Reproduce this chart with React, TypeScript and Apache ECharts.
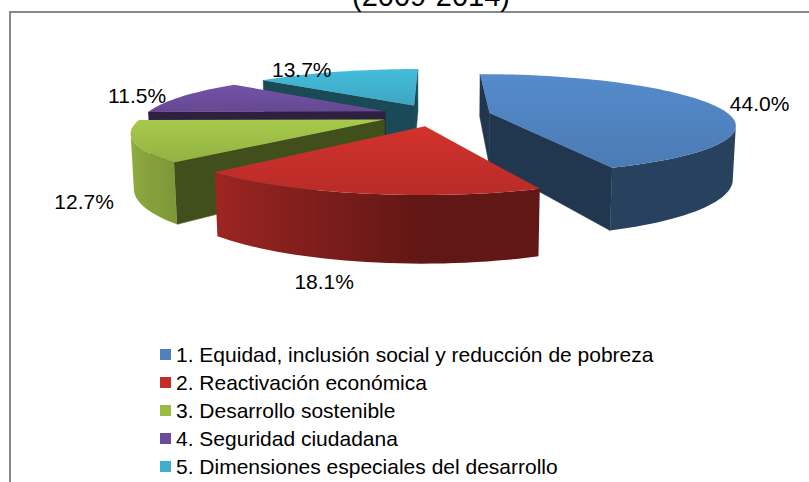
import React, { useEffect, useRef } from 'react';
import * as echarts from 'echarts';

const categories = [
  '1. Equidad, inclusión social y reducción de pobreza',
  '2. Reactivación económica',
  '3. Desarrollo sostenible',
  '4. Seguridad ciudadana',
  '5. Dimensiones especiales del desarrollo',
];
const values = [44.0, 18.1, 12.7, 11.5, 13.7];
const colors = ['#4F81BD', '#C22E2A', '#9BBB45', '#6B4C9A', '#3FAFCB'];
const titleText = '(2009-2014)';

// 3D projection settings
const CX = 436;
const CY = 115;
const R = 240;
const H = 53;
const EXPLODE = 55;
const SIN_T = 0.2;
const COS_T = Math.sqrt(1 - SIN_T * SIN_T);
const DIST = 1088;
const FONT = '"Liberation Sans", Arial, sans-serif';

function project(x: number, yUp: number, z: number): number[] {
  const depth = z * COS_T + yUp * SIN_T;
  const s = DIST / (DIST - depth);
  const down = z * SIN_T - yUp * COS_T;
  return [CX + s * x, CY + s * down];
}

function shade(hex: string, k: number): string {
  const n = parseInt(hex.slice(1), 16);
  const r = Math.min(255, Math.round(((n >> 16) & 255) * k));
  const g = Math.min(255, Math.round(((n >> 8) & 255) * k));
  const b = Math.min(255, Math.round((n & 255) * k));
  return 'rgb(' + r + ',' + g + ',' + b + ')';
}

function area(pts: number[][]): number {
  let s = 0;
  for (let i = 0; i < pts.length; i++) {
    const p = pts[i];
    const q = pts[(i + 1) % pts.length];
    s += p[0] * q[1] - q[0] * p[1];
  }
  return s;
}

const total = values.reduce((a, b) => a + b, 0);
const starts = values.map((_, i) => values.slice(0, i).reduce((a, b) => a + b, 0));

function renderItem(params: any, api: any) {
  const i = params.seriesIndex;
  const v = api.value(0);
  const base = colors[i];
  const a0 = (starts[i] / total) * Math.PI * 2;
  const a1 = ((starts[i] + v) / total) * Math.PI * 2;
  const m = (a0 + a1) / 2;
  const ox = EXPLODE * Math.sin(m);
  const oz = -EXPLODE * Math.cos(m);
  const rim = (t: number, yUp: number, r: number = R) =>
    project(ox + r * Math.sin(t), yUp, oz - r * Math.cos(t));
  const apexT = project(ox, 0, oz);
  const apexB = project(ox, -H, oz);
  const N = Math.max(2, Math.ceil((a1 - a0) / (Math.PI / 90)));
  const ts: number[] = [];
  for (let j = 0; j <= N; j++) ts.push(a0 + ((a1 - a0) * j) / N);
  const depthRank = Math.round((1 - Math.cos(m)) * 100) * 10;
  const children: any[] = [];

  const faceColor = shade(base, 0.42);
  const fs = [rim(a0, 0), apexT, apexB, rim(a0, -H)];
  if (area(fs) > 0) {
    children.push({ type: 'polygon', z2: depthRank, shape: { points: fs }, style: { fill: faceColor, stroke: faceColor, lineWidth: 0.5 } });
  }
  const fe = [apexT, rim(a1, 0), rim(a1, -H), apexB];
  if (area(fe) > 0) {
    children.push({ type: 'polygon', z2: depthRank, shape: { points: fe }, style: { fill: faceColor, stroke: faceColor, lineWidth: 0.5 } });
  }

  // outer wall, visible runs
  const vis: boolean[] = [];
  for (let j = 0; j < N; j++) {
    const q = [rim(ts[j], 0), rim(ts[j], -H), rim(ts[j + 1], -H), rim(ts[j + 1], 0)];
    vis.push(area(q) > 0);
  }
  let j = 0;
  while (j < N) {
    if (!vis[j]) { j++; continue; }
    let k = j;
    while (k < N && vis[k]) k++;
    const topPts: number[][] = [];
    const botPts: number[][] = [];
    const ks: number[] = [];
    for (let q = j; q <= k; q++) {
      topPts.push(rim(ts[q], 0));
      botPts.push(rim(ts[q], -H));
      ks.push(0.5 + 0.45 * Math.max(0, -Math.sin(ts[q])));
    }
    const pts = topPts.concat(botPts.slice().reverse());
    let minX = Infinity, maxX = -Infinity;
    pts.forEach((p) => { minX = Math.min(minX, p[0]); maxX = Math.max(maxX, p[0]); });
    const stops = topPts.map((p, idx) => ({
      offset: maxX > minX ? (p[0] - minX) / (maxX - minX) : 0,
      color: shade(base, ks[idx]),
    })).sort((a, b) => a.offset - b.offset);
    children.push({
      type: 'polygon', z2: depthRank + 1, shape: { points: pts },
      style: { fill: { type: 'linear', x: 0, y: 0, x2: 1, y2: 0, colorStops: stops } },
    });
    j = k;
  }

  // top face
  const top = [apexT].concat(ts.map((t) => rim(t, 0)));
  children.push({
    type: 'polygon', z2: depthRank + 2, shape: { points: top },
    style: {
      fill: {
        type: 'linear', x: 0, y: 0, x2: 0, y2: 1,
        colorStops: [
          { offset: 0, color: shade(base, 1.08) },
          { offset: 1, color: shade(base, 0.95) },
        ],
      },
    },
  });

  // label
  const front = Math.cos(m) < 0;
  const lp = rim(m, front ? -H : 0, R + 20);
  children.push({
    type: 'text', z2: 20000, x: lp[0], y: lp[1],
    style: {
      text: v.toFixed(1) + '%',
      fill: '#000',
      font: '21px ' + FONT,
      textAlign: Math.sin(m) >= 0 ? 'left' : 'right',
      textVerticalAlign: Math.cos(m) < -0.7 ? 'top' : 'middle',
    },
  });

  return { type: 'group', children };
}

export default function App() {
  const ref = useRef<HTMLDivElement>(null);
  useEffect(() => {
    document.body.style.margin = '0';
    const chart = echarts.init(ref.current as HTMLDivElement, null, { renderer: 'svg' });
    chart.setOption({
      animation: false,
      backgroundColor: '#fff',
      graphic: [
        {
          type: 'rect', silent: true,
          shape: { x: 10, y: 12, width: 830, height: 500 },
          style: { fill: 'none', stroke: '#878787', lineWidth: 2 },
        },
        {
          type: 'text', x: 431, y: -4,
          style: { text: titleText, font: '29px ' + FONT, fill: '#000', textAlign: 'center', textVerticalAlign: 'middle' },
        },
      ],
      legend: {
        orient: 'vertical',
        left: 160,
        top: 344,
        padding: 0,
        itemWidth: 11,
        itemHeight: 11,
        itemGap: 7,
        icon: 'rect',
        selectedMode: false,
        data: categories,
        textStyle: { fontFamily: FONT, fontSize: 21, color: '#000', lineHeight: 21 },
      },
      series: values.map((v, i) => ({
        type: 'custom',
        name: categories[i],
        coordinateSystem: 'none',
        itemStyle: { color: colors[i] },
        data: [[v]],
        renderItem,
      })),
    });
    return () => chart.dispose();
  }, []);
  return <div ref={ref} style={{ width: 809, height: 482 }} />;
}
